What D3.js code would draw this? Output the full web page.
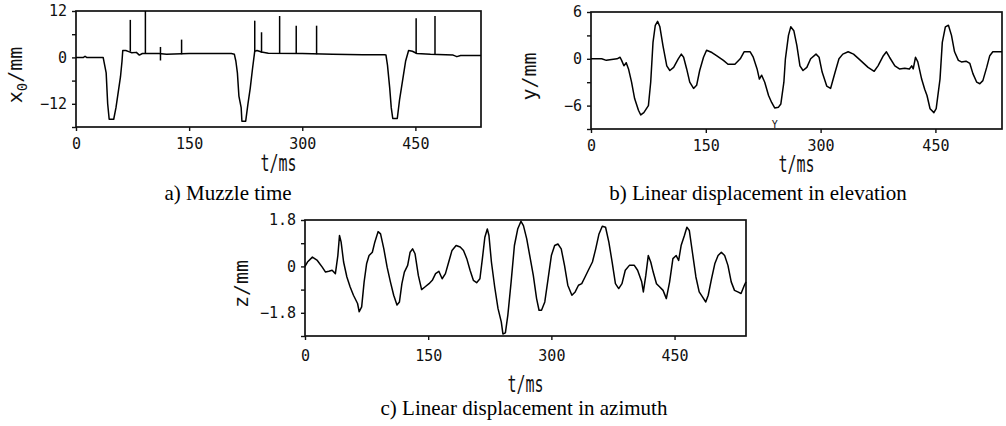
<!DOCTYPE html>
<html>
<head>
<meta charset="utf-8">
<script src="https://cdn.jsdelivr.net/npm/d3@7"></script>
<style>
body { margin: 0; background: #fff; }
svg { display: block; }
.tick text { font-family: "DejaVu Sans Mono", monospace; font-size: 15px; fill: #111; }
.tick line { stroke: #111; stroke-width: 1.4; }
.cap { font-family: "Liberation Serif", serif; font-size: 21px; fill: #000; }
.ttl { font-family: "DejaVu Sans Mono", monospace; fill: #111; }
</style>
</head>
<body>
<svg id="chart" width="1006" height="426"></svg>
<script>
// shared time axis
const xTicks = [0, 150, 300, 450];
const tMax = 537;

// a) muzzle time, x0 (mm)
const tA = [0,10,12,14,36,38,40,42,44,50,53,56,59,61,62,66,70,74,80,84,88,110,120,150,180,206,210,212,214,216,219,220,225,228,231,234,237,240,246,255,300,340,380,409,411,413,416,418,420,426,429,433,437,441,446,452,470,500,505,510,537];
const xA = [0,0,0.3,0,0,-2,-4,-12,-16,-16,-13,-9,-5,-1,1.8,1.8,1.5,1.2,1.3,0.6,1,1,0.8,1,1,1,0.8,-1,-4,-10,-13,-16.5,-16.5,-12,-8,-3,1.6,1.8,1.4,1.1,1,0.8,0.7,0.7,0.6,-2,-8,-13,-15.8,-15.8,-11,-6,-1,1.8,1.6,1,0.8,0.6,0.2,0.5,0.5];
const spikeT = [72, 92, 112, 140, 237, 246, 270, 292, 319, 451, 476];
const spikeTop = [9.7, 12, 2.7, 4.6, 9.5, 6.5, 10.7, 8.2, 8.2, 10.1, 10.7];
const spikeBot = [1.5, 1, -0.8, 0.8, 1.5, 1.2, 1, 1, 0.8, 1, 0.8];
const yTicksA = [12, 6, 0, -6, -12, -18];
const yLabelsA = [12, 0, -12];

// b) elevation, y (mm)
const tB = [0,14,20,27,34,38,40,43,46,49,53,57,62,65,69,75,78,81,84,87,90,94,99,103,108,114,118,121,125,129,134,138,142,147,151,158,164,173,179,188,195,200,208,212,217,220,223,227,232,236,240,245,248,252,254,258,261,265,269,273,277,282,287,294,298,302,308,313,319,324,329,336,343,351,362,370,375,382,386,390,397,403,410,416,419,421,424,427,432,436,439,443,448,451,456,459,463,467,471,475,480,484,490,495,499,504,508,512,517,521,525,537];
const yB = [0,0,-0.2,-0.1,0,0.2,-0.2,-0.9,-0.5,-1.3,-3,-5.1,-6.6,-7.2,-6.9,-6,-3,2.1,4.3,4.8,4.1,1.7,-0.9,-1.5,-1.1,0,0.6,0.2,-1.3,-3,-3.8,-3.4,-1.5,0.2,1.1,0.8,0.4,-0.2,-0.7,-0.7,0,0.9,0.9,0.2,-1.3,-2.6,-2.1,-3,-4.7,-5.6,-6.3,-6.2,-5.8,-3,0,3,4.1,3.6,1.7,-0.9,-1.5,-1.1,0,0.6,0.2,-1.7,-3.5,-3.8,-1.7,0,0.6,0.9,0.6,-0.1,-1.1,-1.6,-0.9,0.4,0.9,0.2,-0.9,-1.3,-1.2,-1.3,-0.9,-1.3,0.2,-0.4,-2.6,-3.9,-4.7,-6.4,-6.9,-6.4,-2.6,2.1,4.1,4.3,3,0.9,-0.2,-0.4,-0.3,-0.6,-1.9,-3,-3.2,-2.8,-1.1,0.4,0.9,0.9];
const yTicksB = [6, 3, 0, -3, -6, -9];
const yLabelsB = [6, 0, -6];

// c) azimuth, z (mm)
const tC = [0,3,9,15,21,25,29,33,37,40,42,44,47,51,55,59,64,66,69,72,75,78,82,85,89,92,96,100,104,108,112,115,118,121,125,128,131,134,138,142,146,151,155,159,163,167,171,175,179,184,189,193,197,201,205,209,213,216,219,222,224,227,231,235,239,241,244,247,251,255,259,263,266,270,274,278,282,285,288,292,296,300,304,308,312,316,320,325,329,333,337,341,345,350,354,358,362,366,370,374,378,382,386,390,395,401,405,410,412,415,418,421,424,428,432,436,440,444,448,452,455,458,462,465,468,472,476,480,484,488,491,495,499,503,507,511,515,519,523,527,531,535,537];
const zC = [0,0.17,0.36,0.23,-0.03,-0.22,-0.19,-0.15,-0.28,0.42,1.2,0.94,0.17,-0.41,-0.8,-1.12,-1.44,-1.76,-1.57,-0.6,0.1,0.42,0.55,0.94,1.35,1.26,0.68,-0.03,-0.6,-1.12,-1.5,-1.38,-0.67,-0.22,0.04,0.55,0.68,0.49,-0.35,-0.9,-0.8,-0.67,-0.54,-0.28,-0.19,-0.48,-0.28,0.17,0.62,0.81,0.75,0.62,0.3,-0.15,-0.54,-0.63,-0.48,0.3,1.13,1.45,1.2,0.17,-0.8,-1.63,-2.15,-2.62,-2.58,-1.89,-0.6,0.81,1.45,1.75,1.58,1.07,0.36,-0.35,-1.25,-1.7,-1.7,-1.38,-0.48,0.42,0.81,0.87,0.68,0.04,-0.73,-1.12,-0.99,-0.73,-0.67,-0.41,-0.15,0.17,0.68,1.26,1.56,1.52,0.94,0.17,-0.67,-0.86,-0.67,-0.15,0.04,0.04,-0.15,-0.6,-0.99,-0.35,0.42,0.17,-0.22,-0.67,-0.8,-0.93,-1.25,-0.6,0.3,0.42,0.23,0.81,1.2,1.52,1.39,0.49,-0.41,-0.99,-1.18,-1.38,-1.12,-0.48,0.1,0.42,0.55,0.42,0.04,-0.6,-0.93,-0.99,-1.05,-0.73,-0.6];
const yTicksC = [1.8, 0.9, 0, -0.9, -1.8, -2.7];
const yLabelsC = [1.8, 0, -1.8];

const captions = ["a) Muzzle time", "b) Linear displacement in elevation", "c) Linear displacement in azimuth"];

const svg = d3.select('#chart');
const minus = s => s.replace('-', '\u2212');

function drawPanel(p) {
    const x = d3.scaleLinear().domain([0, tMax]).range([p.l, p.r]);
    const y = d3.scaleLinear().domain(p.yDom).range([p.b, p.t]);
    const g = svg.append('g');

    g.append('g')
        .attr('transform', `translate(0,${p.b})`)
        .call(d3.axisBottom(x).tickValues(xTicks).tickSize(4).tickSizeOuter(0).tickPadding(p.pad))
        .call(a => a.select('.domain').remove());

    g.append('g')
        .attr('transform', `translate(${p.l},0)`)
        .call(d3.axisLeft(y).tickValues(p.yTicks).tickSize(4).tickSizeOuter(0).tickPadding(5)
            .tickFormat(d => p.yLabels.includes(d) ? minus(p.fmt(d)) : ''))
        .call(a => a.select('.domain').remove());

    g.append('rect')
        .attr('x', p.l).attr('y', p.t)
        .attr('width', p.r - p.l).attr('height', p.b - p.t)
        .attr('fill', 'none').attr('stroke', '#111').attr('stroke-width', 1.7);

    const line = d3.line().x(d => x(d[0])).y(d => y(d[1]));
    g.append('path')
        .datum(d3.zip(p.ts, p.vs))
        .attr('d', line)
        .attr('fill', 'none').attr('stroke', '#000').attr('stroke-width', 1.5)
        .attr('stroke-linejoin', 'round');

    if (p.spikes) {
        g.selectAll('.spike')
            .data(d3.zip(spikeT, spikeTop, spikeBot))
            .enter().append('line')
            .attr('x1', d => x(d[0])).attr('x2', d => x(d[0]))
            .attr('y1', d => y(d[2])).attr('y2', d => y(d[1]))
            .attr('stroke', '#000').attr('stroke-width', 1.5);
    }

    // t/ms title, stretched like the original bitmap font
    g.append('text')
        .attr('class', 'ttl')
        .attr('transform', `translate(${(p.l + p.r) / 2},${p.b + p.tGap}) scale(1,1.55)`)
        .attr('text-anchor', 'middle').attr('y', 5)
        .style('font-size', '15px')
        .text('t/ms');

    // y title
    const yt = g.append('text')
        .attr('class', 'ttl')
        .attr('transform', `translate(${p.yTitleX},${(p.t + p.b) / 2 + 6}) rotate(-90)`)
        .attr('text-anchor', 'middle')
        .style('font-size', '20px');
    yt.append('tspan').text(p.yName);
    if (p.ySub) yt.append('tspan').attr('dy', 5).style('font-size', '14px').text(p.ySub);
    yt.append('tspan').attr('dy', p.ySub ? -5 : 0).text('/mm');

    svg.append('text')
        .attr('class', 'cap')
        .attr('x', p.capX).attr('y', p.capY)
        .attr('text-anchor', 'middle')
        .text(p.caption);
    return {x, y, g};
}

drawPanel({l: 76, r: 481, t: 11, b: 127, yDom: [-18, 12], yTicks: yTicksA, yLabels: yLabelsA,
    fmt: d3.format('d'), ts: tA, vs: xA, spikes: true, yName: 'x', ySub: '0', yTitleX: 22,
    pad: 7, tGap: 36, caption: captions[0], capX: 228, capY: 200});

const pb = drawPanel({l: 591, r: 1002, t: 12, b: 129, yDom: [-9, 6], yTicks: yTicksB, yLabels: yLabelsB,
    fmt: d3.format('d'), ts: tB, vs: yB, yName: 'y', yTitleX: 536,
    pad: 7, tGap: 35, caption: captions[1], capX: 758, capY: 200});
// small mark under the trough near 240 ms
pb.g.append('text').attr('class', 'ttl')
    .attr('x', pb.x(240)).attr('y', pb.y(-9) - 1)
    .attr('text-anchor', 'middle').style('font-size', '10px').text('Y');

drawPanel({l: 305, r: 746, t: 220, b: 336, yDom: [-2.7, 1.8], yTicks: yTicksC, yLabels: yLabelsC,
    fmt: d => d === 0 ? '0' : d3.format('.1f')(d), ts: tC, vs: zC, yName: 'z', yTitleX: 248,
    pad: 10, tGap: 48, caption: captions[2], capX: 524, capY: 415});
</script>
</body>
</html>
